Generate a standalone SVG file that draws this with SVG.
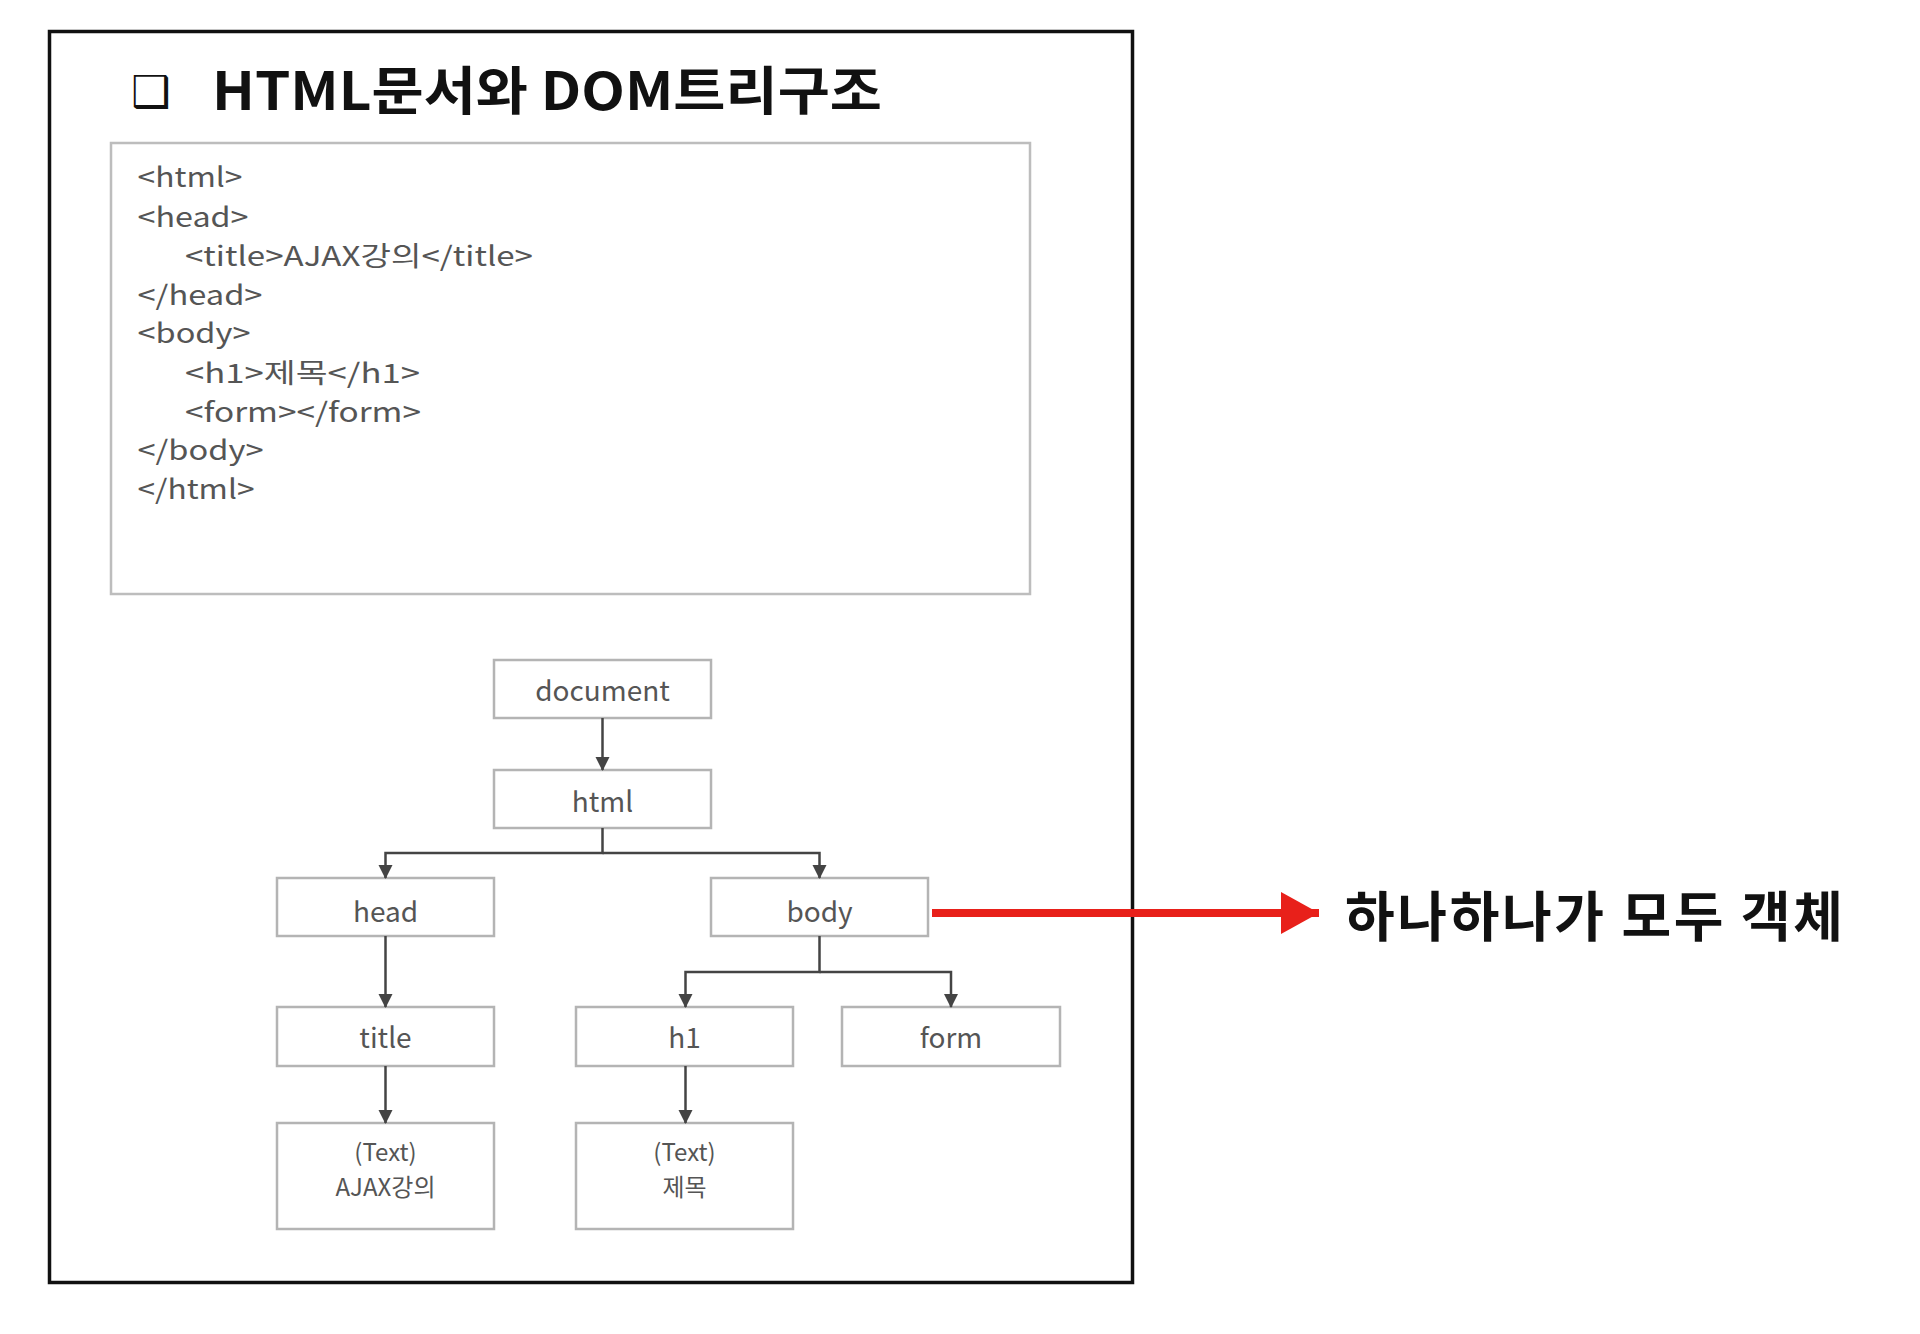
<svg xmlns="http://www.w3.org/2000/svg" width="1920" height="1334" viewBox="0 0 1920 1334">
<style>
.node rect{fill:#fff;stroke:#b4b4b4;stroke-width:2.5}
.lbl{font-family:"Noto Sans CJK KR","Noto Sans",sans-serif;font-size:28px;fill:#555;text-anchor:middle}
.sm{font-size:24px}
.code{font-family:"Noto Sans CJK KR","Noto Sans",sans-serif;font-size:27px;fill:#555}
.conn path{fill:none;stroke:#444;stroke-width:2.5}
</style>
<defs>
<marker id="ah" markerUnits="userSpaceOnUse" markerWidth="14" markerHeight="16" refX="13" refY="7" orient="auto">
<path d="M0,0 L14,7 L0,14 Z" fill="#444"/>
</marker>
<marker id="rah" markerUnits="userSpaceOnUse" markerWidth="40" markerHeight="44" refX="38" refY="21" orient="auto">
<path d="M0,0 L38,21 L0,42 Z" fill="#e8201a"/>
</marker>
</defs>
<rect width="1920" height="1334" fill="#fff"/>
<rect id="frame" x="49.5" y="31.5" width="1083" height="1251" fill="none" stroke="#111" stroke-width="3.5"/>
<g id="title">
<text x="131" y="107" font-family="DejaVu Sans,sans-serif" font-size="44" fill="#111">❑</text>
<text x="212" y="110" font-family="'Noto Sans CJK KR','Noto Sans',sans-serif" font-size="52" font-weight="bold" fill="#111" textLength="670" lengthAdjust="spacingAndGlyphs">HTML문서와 DOM트리구조</text>
</g>
<g id="code">
<rect x="111" y="143" width="919" height="451" fill="#fff" stroke="#bdbdbd" stroke-width="2.5"/>
<text class="code" x="137.5" y="187" textLength="105" lengthAdjust="spacingAndGlyphs">&lt;html&gt;</text>
<text class="code" x="137.5" y="227" textLength="111" lengthAdjust="spacingAndGlyphs">&lt;head&gt;</text>
<text class="code" x="185" y="266" textLength="348" lengthAdjust="spacingAndGlyphs">&lt;title&gt;AJAX강의&lt;/title&gt;</text>
<text class="code" x="137.5" y="305" textLength="125" lengthAdjust="spacingAndGlyphs">&lt;/head&gt;</text>
<text class="code" x="137.5" y="343" textLength="113" lengthAdjust="spacingAndGlyphs">&lt;body&gt;</text>
<text class="code" x="185" y="383" textLength="235" lengthAdjust="spacingAndGlyphs">&lt;h1&gt;제목&lt;/h1&gt;</text>
<text class="code" x="185" y="422" textLength="236" lengthAdjust="spacingAndGlyphs">&lt;form&gt;&lt;/form&gt;</text>
<text class="code" x="137.5" y="460" textLength="126" lengthAdjust="spacingAndGlyphs">&lt;/body&gt;</text>
<text class="code" x="137.5" y="499" textLength="117" lengthAdjust="spacingAndGlyphs">&lt;/html&gt;</text>
</g>
<g id="n-document" class="node"><rect x="494" y="660" width="217" height="58"/><text class="lbl" x="602.5" y="701">document</text></g>
<g id="n-html" class="node"><rect x="494" y="770" width="217" height="58"/><text class="lbl" x="602.5" y="812">html</text></g>
<g id="n-head" class="node"><rect x="277" y="878" width="217" height="58"/><text class="lbl" x="385.5" y="922">head</text></g>
<g id="n-body" class="node"><rect x="711" y="878" width="217" height="58"/><text class="lbl" x="819.5" y="922">body</text></g>
<g id="n-title" class="node"><rect x="277" y="1007" width="217" height="59"/><text class="lbl" x="385.5" y="1048">title</text></g>
<g id="n-h1" class="node"><rect x="576" y="1007" width="217" height="59"/><text class="lbl" x="684.5" y="1048">h1</text></g>
<g id="n-form" class="node"><rect x="842" y="1007" width="218" height="59"/><text class="lbl" x="951" y="1048">form</text></g>
<g id="n-text1" class="node"><rect x="277" y="1123" width="217" height="106"/><text class="lbl sm" x="385.5" y="1161">(Text)</text><text class="lbl sm" x="385.5" y="1196">AJAX강의</text></g>
<g id="n-text2" class="node"><rect x="576" y="1123" width="217" height="106"/><text class="lbl sm" x="684.5" y="1161">(Text)</text><text class="lbl sm" x="684.5" y="1196">제목</text></g>
<g id="connectors" class="conn">
<path d="M602.5,718 V770" marker-end="url(#ah)"/>
<path d="M602.5,828 V853 H385.5 V878" marker-end="url(#ah)"/>
<path d="M602.5,853 H819.5 V878" marker-end="url(#ah)"/>
<path d="M385.5,936 V1007" marker-end="url(#ah)"/>
<path d="M819.5,936 V972 H685.5 V1007" marker-end="url(#ah)"/>
<path d="M819.5,972 H951 V1007" marker-end="url(#ah)"/>
<path d="M385.5,1066 V1123" marker-end="url(#ah)"/>
<path d="M685.5,1066 V1123" marker-end="url(#ah)"/>
<path d="M932,913 H1319" marker-end="url(#rah)" style="stroke:#e8201a;stroke-width:8"/>
</g>
<g id="note">
<text x="1345" y="913" dominant-baseline="central" font-family="'Noto Sans CJK KR','Noto Sans',sans-serif" font-size="54" font-weight="bold" fill="#111" textLength="498" lengthAdjust="spacing">하나하나가 모두 객체</text>
</g>
</svg>
